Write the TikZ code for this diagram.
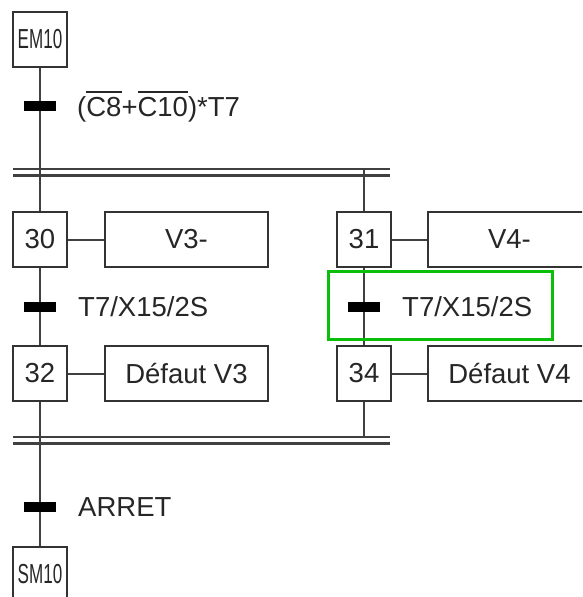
\documentclass[tikz,border=0pt]{standalone}
\usepackage{graphicx}
\usepackage{fontspec}
\setmainfont{Liberation Sans}
\newcommand{\myovl}[1]{\leavevmode\vbox{\hrule height 1.8pt \kern 4.5pt \hbox{#1}}}
\definecolor{hlgreen}{RGB}{10,190,10}
\begin{document}
\begin{tikzpicture}[x=1pt,y=-1pt,
  every node/.style={font=\fontsize{27.5}{30}\selectfont, text=black!85},
  stepbox/.style={draw=black!80, line width=2pt, minimum width=54pt, minimum height=55pt, inner sep=0pt, fill=white},
  actbox/.style={draw=black!80, line width=2pt, minimum width=163pt, minimum height=55pt, inner sep=0pt, fill=white},
  link/.style={draw=black!75, line width=2pt},
  bar/.style={fill=black, minimum width=32pt, minimum height=10pt, inner sep=0pt},
  cond/.style={anchor=west, inner sep=0pt},
  dbl/.style={draw=black!75, line width=2.2pt}]
\useasboundingbox (0,0) rectangle (582,597);
\clip (0,0) rectangle (582,597);

% coordinates for double bars
\coordinate (tl1) at (13,169);  \coordinate (tr1) at (390,169);
\coordinate (tl2) at (13,175.5);  \coordinate (tr2) at (390,175.5);
\coordinate (bl1) at (13,437);  \coordinate (br1) at (390,437);
\coordinate (bl2) at (13,443.5);  \coordinate (br2) at (390,443.5);
\coordinate (jr) at (364,169);
\coordinate (jb) at (364,437);

% steps
\node[stepbox] (em10) at (40,39) {\scalebox{0.62}[1]{EM10}};
\node[stepbox] (s30) at (40,239.5) {30};
\node[stepbox] (s31) at (364,239.5) {31};
\node[stepbox] (s32) at (40,373.5) {32};
\node[stepbox] (s34) at (364,373.5) {34};
\node[stepbox] (sm10) at (40,574) {\scalebox{0.62}[1]{SM10}};

% actions
\node[actbox] (a30) at (186.5,239.5) {V3-};
\node[actbox] (a31) at (509.5,239.5) {V4-};
\node[actbox] (a32) at (186.5,373.5) {Défaut V3};
\node[actbox] (a34) at (509.5,373.5) {Défaut V4};

% links
\draw[link] (em10) -- (s30);
\draw[link] (jr) -- (s31);
\draw[link] (s30) -- (s32);
\draw[link] (s31) -- (s34);
\draw[link] (s32) -- (sm10);
\draw[link] (s34) -- (jb);
\draw[link] (s30) -- (a30);
\draw[link] (s31) -- (a31);
\draw[link] (s32) -- (a32);
\draw[link] (s34) -- (a34);

% double bars
\draw[dbl] (tl1) -- (tr1);
\draw[dbl] (tl2) -- (tr2);
\draw[dbl] (bl1) -- (br1);
\draw[dbl] (bl2) -- (br2);

% transitions
\node[bar] (t0) at (40,106) {};
\node[cond] (c0) at (77,107) {(\myovl{C8}+\myovl{C10})*T7};
\node[bar] (t30) at (40,307) {};
\node[cond] (c30) at (78,307) {T7/X15/2S};
\node[bar] (t31) at (364,307) {};
\node[cond] (c31) at (402,307) {T7/X15/2S};
\node[bar] (ta) at (40,507) {};
\node[cond] (ca) at (78,507) {ARRET};

% highlight
\draw[hlgreen, line width=3pt] (328,271) rectangle (552,339);
\end{tikzpicture}
\end{document}
